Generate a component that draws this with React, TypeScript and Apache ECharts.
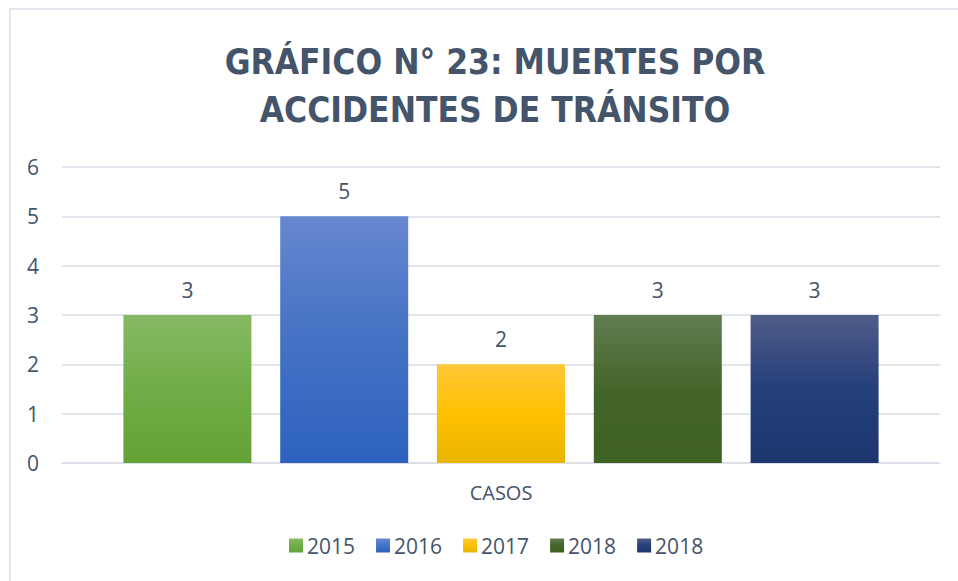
import React, { useEffect, useRef } from "react";
import * as echarts from "echarts";

const categories = ["CASOS"];
const seriesKeys = ["s2015", "s2016", "s2017", "s2018a", "s2018b"];
const seriesLabels = ["2015", "2016", "2017", "2018", "2018"];
const seriesValues = [[3], [5], [2], [3], [3]];
const seriesTop = ["#86B964", "#6787D0", "#FFC839", "#617D50", "#505C88"];
const seriesMid = ["#70AD47", "#4472C4", "#FFC000", "#44652A", "#243F7A"];
const seriesBottom = ["#64A236", "#2E62BF", "#E9B500", "#3E6223", "#1D366E"];
const yTicks = [0, 6, 1];

const TEXT = "#44546A";

export default function App() {
  const ref = useRef<HTMLDivElement>(null);
  useEffect(() => {
    if (!ref.current) return;
    const chart = echarts.init(ref.current, null, { renderer: "svg" });
    const labelOf: Record<string, string> = {};
    seriesKeys.forEach((k, i) => (labelOf[k] = seriesLabels[i]));
    chart.setOption({
      animation: false,
      backgroundColor: "#ffffff",
      title: {
        text: "GRÁFICO N° 23: MUERTES POR\nACCIDENTES DE TRÁNSITO",
        left: 490,
        top: 33,
        textAlign: "center",
        textStyle: {
          fontFamily: "'DejaVu Sans Condensed', 'Open Sans', sans-serif",
          fontWeight: "bold",
          fontSize: 35,
          lineHeight: 48,
          color: TEXT,
        },
      },
      graphic: [
        {
          type: "rect",
          shape: { x: 10, y: 9, width: 1000, height: 700 },
          style: { fill: "none", stroke: "#D9DEE6", lineWidth: 1.5 },
          silent: true,
        },
      ],
      legend: {
        data: seriesKeys,
        bottom: 20,
        left: 284,
        itemWidth: 14,
        itemHeight: 14,
        itemGap: 21,
        icon: "rect",
        formatter: (name: string) => labelOf[name] ?? name,
        textStyle: { fontFamily: "'Open Sans', sans-serif", fontSize: 21, color: TEXT, padding: [0, 0, 0, -1] },
      },
      grid: { left: 62, right: 18, top: 167, bottom: 118 },
      xAxis: {
        type: "category",
        data: categories,
        axisLine: { show: true, lineStyle: { color: "#D9DEE6", width: 1.5 } },
        axisTick: { show: false },
        axisLabel: { margin: 19, fontFamily: "'Open Sans', sans-serif", fontSize: 20, color: TEXT },
      },
      yAxis: {
        type: "value",
        min: yTicks[0],
        max: yTicks[1],
        interval: yTicks[2],
        axisLine: { show: false },
        axisTick: { show: false },
        splitLine: { lineStyle: { color: "#D9DEE6", width: 1.5 } },
        axisLabel: { margin: 23, fontFamily: "'Open Sans', sans-serif", fontSize: 21, color: TEXT },
      },
      series: seriesKeys.map((k, i) => ({
        name: k,
        type: "bar",
        data: seriesValues[i],
        barWidth: 128,
        barGap: "22.5%",
        itemStyle: {
          color: new echarts.graphic.LinearGradient(0, 0, 0, 1, [
            { offset: 0, color: seriesTop[i] },
            { offset: 0.5, color: seriesMid[i] },
            { offset: 1, color: seriesBottom[i] },
          ]),
        },
        label: {
          show: true,
          position: "top",
          distance: 15,
          fontFamily: "'Open Sans', sans-serif",
          fontSize: 21,
          color: TEXT,
        },
      })),
    });
    return () => chart.dispose();
  }, []);
  return (
    <div
      ref={ref}
      style={{ position: "absolute", left: 0, top: 0, width: 958, height: 581 }}
    />
  );
}
